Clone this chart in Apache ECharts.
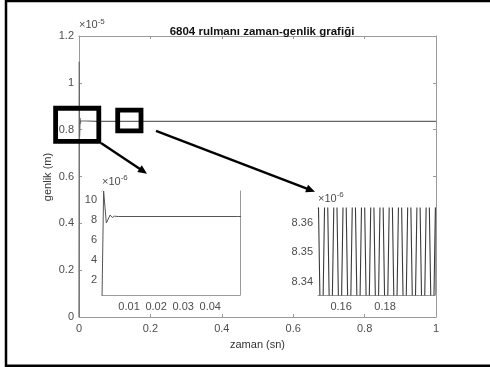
<!DOCTYPE html>
<html>
<head>
<meta charset="utf-8">
<script src="https://cdn.jsdelivr.net/npm/echarts@6/dist/echarts.min.js"></script>
<style>html,body{margin:0;padding:0;background:#fff}#c{width:490px;height:367px}</style>
</head>
<body>
<div id="c"></div>
<script>
// ---- data (amplitude in units of 1e-6 m, time in s) ----
var mainTime = [0, 0.0006, 0.0016, 0.0030, 0.0038, 0.0046, 0.0060, 0.05, 0.2, 0.5, 1.0];
var mainAmp  = [0, 10.90, 7.70, 8.50, 8.25, 8.38, 8.35, 8.35, 8.35, 8.35, 8.35];
var zoomTime = [0.1490, 0.1511, 0.1532, 0.1553, 0.1574, 0.1595, 0.1616, 0.1637, 0.1658, 0.1679,
                0.1700, 0.1721, 0.1742, 0.1763, 0.1784, 0.1805, 0.1826, 0.1847, 0.1868, 0.1889,
                0.1910, 0.1931, 0.1952, 0.1973, 0.1994, 0.2015, 0.2036];
var zoomAmp  = [8.40, 8.30, 8.40, 8.30, 8.40, 8.30, 8.40, 8.30, 8.40, 8.30,
                8.40, 8.30, 8.40, 8.30, 8.40, 8.30, 8.40, 8.30, 8.40, 8.30,
                8.40, 8.30, 8.40, 8.30, 8.40, 8.30, 8.40];
var inset1XTicks = [0.01, 0.02, 0.03, 0.04];
var inset1YTicks = [2, 4, 6, 8, 10];
var inset2XTicks = [0.16, 0.18];
var inset2YTicks = [8.34, 8.35, 8.36];
var titleText = '6804 rulmanı zaman-genlik grafiği';
// zoom boxes [xmin, ymin, xmax, ymax] and arrows [x0, y0, x1, y1] in main-axis data units
var zoomBoxes = [[-0.0655, 7.503, 0.0555, 8.914], [0.1084, 7.947, 0.1737, 8.836]];
var arrows = [[0.0616, 7.426, 0.1905, 6.122], [0.2157, 7.952, 0.6611, 5.348]];

function pairs(xs, ys) { return xs.map(function (x, i) { return [x, ys[i]]; }); }

var FONT = 'Liberation Sans';
var AX = '#9a9a9a';
var LBL = '#4d4d4d';

function expName(p) { return '{a|×10}{b|' + p + '}'; }
var richExp = {
  a: { fontSize: 11, color: LBL, fontFamily: FONT },
  b: { fontSize: 8, color: LBL, fontFamily: FONT, padding: [0, 0, 7, 0] }
};

function xAx(g, o, top) {
  var a = {
    type: 'value', gridIndex: g, position: top ? 'top' : 'bottom',
    min: o.min, max: o.max, splitLine: { show: false },
    axisLine: { show: true, onZero: false, lineStyle: { color: AX, width: 1 } },
    axisTick: { show: true, inside: true, length: 3, lineStyle: { color: AX } },
    axisLabel: { show: !top, color: LBL, fontSize: 11, fontFamily: FONT, margin: 6 }
  };
  if (o.interval) a.interval = o.interval;
  if (o.ticks) { a.axisLabel.customValues = o.ticks; a.axisTick.customValues = o.ticks; }
  if (o.fmt) a.axisLabel.formatter = o.fmt;
  if (o.name && !top) {
    a.name = o.name; a.nameLocation = 'middle'; a.nameGap = o.nameGap;
    a.nameTextStyle = { color: '#333', fontSize: 11, fontFamily: FONT };
  }
  return a;
}
function yAx(g, o, right) {
  var a = {
    type: 'value', gridIndex: g, position: right ? 'right' : 'left',
    min: o.min, max: o.max, splitLine: { show: false },
    axisLine: { show: true, onZero: false, lineStyle: { color: AX, width: 1 } },
    axisTick: { show: true, inside: true, length: 3, lineStyle: { color: AX } },
    axisLabel: { show: !right, color: LBL, fontSize: 11, fontFamily: FONT, margin: 5 }
  };
  if (o.interval) a.interval = o.interval;
  if (o.ticks) { a.axisLabel.customValues = o.ticks; a.axisTick.customValues = o.ticks; }
  if (o.fmt) a.axisLabel.formatter = o.fmt;
  if (!right && o.exp) {
    a.name = expName(o.exp); a.nameLocation = 'end'; a.nameGap = 2;
    a.nameTextStyle = { align: 'left', verticalAlign: 'bottom', rich: richExp };
  }
  return a;
}

var mainX = { min: 0, max: 1, interval: 0.2, name: 'zaman (sn)', nameGap: 22 };
var mainY = { min: 0, max: 12, interval: 2, exp: '-5', fmt: function (v) { return +(v / 10).toFixed(1) + ''; } };
var i1X = { min: 0, max: 0.051, ticks: inset1XTicks };
var i1Y = { min: 0.5, max: 10.9, ticks: inset1YTicks, exp: '-6' };
var i2X = { min: 0.1495, max: 0.2027, ticks: inset2XTicks };
var i2Y = { min: 8.3354, max: 8.3652, ticks: inset2YTicks, exp: '-6' };

var chart = echarts.init(document.getElementById('c'), null, { renderer: 'canvas' });
var option = {
  animation: false,
  backgroundColor: '#fff',
  title: {
    text: titleText, left: 257, top: 21, textAlign: 'center',
    textStyle: { fontSize: 11.5, fontWeight: 'bold', color: '#111', fontFamily: FONT }
  },
  grid: [
    { left: 79, top: 36, width: 357, height: 281, containLabel: false },
    { left: 102, top: 191, width: 138, height: 104, show: true, backgroundColor: '#fff', borderWidth: 0, z: 5 },
    { left: 318, top: 208, width: 117, height: 87, show: true, backgroundColor: '#fff', borderWidth: 0, z: 5 }
  ],
  xAxis: [xAx(0, mainX, false), xAx(0, mainX, true),
          xAx(1, i1X, false), xAx(1, i1X, true),
          xAx(2, i2X, false), xAx(2, i2X, true)],
  yAxis: [yAx(0, mainY, false), yAx(0, mainY, true),
          yAx(1, i1Y, false), yAx(1, i1Y, true),
          yAx(2, i2Y, false), yAx(2, i2Y, true)],
  series: [
    { type: 'line', xAxisIndex: 0, yAxisIndex: 0, data: pairs(mainTime, mainAmp), showSymbol: false,
      lineStyle: { color: '#666', width: 1.2 }, z: 2 },
    { type: 'line', xAxisIndex: 2, yAxisIndex: 2, data: pairs(mainTime, mainAmp), showSymbol: false, clip: true,
      lineStyle: { color: '#555', width: 1 }, z: 8 },
    { type: 'line', xAxisIndex: 4, yAxisIndex: 4, data: pairs(zoomTime, zoomAmp), showSymbol: false, clip: true,
      lineStyle: { color: '#3a3a3a', width: 1.1 }, z: 8 }
  ]
};
chart.setOption(option);

// annotations placed through the main axes
var gfx = [];
gfx.push({ type: 'rect', shape: { x: 6, y: 1, width: 500, height: 364.8 },
  style: { fill: null, stroke: '#000', lineWidth: 2.5 }, z: 100, silent: true });
zoomBoxes.forEach(function (b) {
  var p0 = chart.convertToPixel({ gridIndex: 0 }, [b[0], b[3]]);
  var p1 = chart.convertToPixel({ gridIndex: 0 }, [b[2], b[1]]);
  gfx.push({ type: 'rect', shape: { x: p0[0], y: p0[1], width: p1[0] - p0[0], height: p1[1] - p0[1] },
    style: { fill: null, stroke: '#000', lineWidth: 4.8 }, z: 100, silent: true });
});
arrows.forEach(function (a) {
  var s = chart.convertToPixel({ gridIndex: 0 }, [a[0], a[1]]);
  var e = chart.convertToPixel({ gridIndex: 0 }, [a[2], a[3]]);
  var dx = e[0] - s[0], dy = e[1] - s[1], L = Math.sqrt(dx * dx + dy * dy);
  var ux = dx / L, uy = dy / L, hl = 9, hw = 4;
  var bx = e[0] - ux * hl, by = e[1] - uy * hl;
  gfx.push({ type: 'line', shape: { x1: s[0], y1: s[1], x2: bx + ux * 1, y2: by + uy * 1 },
    style: { stroke: '#000', lineWidth: 2.4 }, z: 100, silent: true });
  gfx.push({ type: 'polygon', shape: { points: [[e[0], e[1]], [bx - uy * hw, by + ux * hw], [bx + uy * hw, by - ux * hw]] },
    style: { fill: '#000' }, z: 100, silent: true });
});
gfx.push({ type: 'text', x: 48, y: 177, rotation: Math.PI / 2, style: { text: 'genlik (m)', fill: '#333', font: '11px ' + FONT, align: 'center', verticalAlign: 'middle' }, z: 50, silent: true });
chart.setOption({ graphic: gfx });
</script>
</body>
</html>
